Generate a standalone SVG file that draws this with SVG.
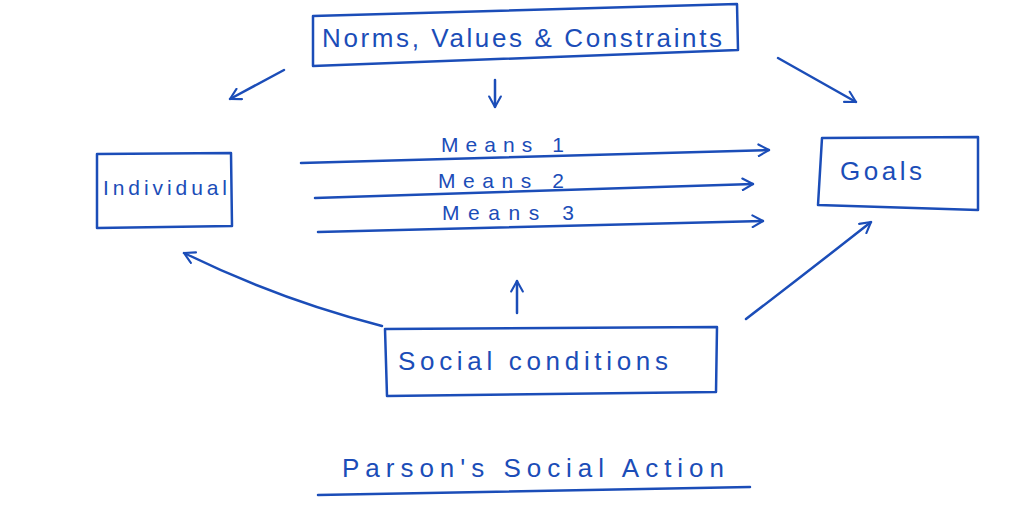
<svg xmlns="http://www.w3.org/2000/svg" width="1026" height="506" viewBox="0 0 1026 506">
<style>
.ink{fill:none;stroke:#1b4db8;stroke-width:2.5;stroke-linecap:round;stroke-linejoin:round}
.t{fill:#1b4db8;font-family:"Liberation Sans",Arial,sans-serif;font-size:26px}
.s{font-size:21px}
</style>
<defs>
<marker id="ah" viewBox="0 0 12 12" refX="10" refY="6" markerWidth="14" markerHeight="14" markerUnits="userSpaceOnUse" orient="auto">
<path d="M1,1 L10,6 L1,11" fill="none" stroke="#1b4db8" stroke-width="1.8" stroke-linecap="round" stroke-linejoin="round"/>
</marker>
</defs>
<rect width="1026" height="506" fill="#ffffff"/>
<g id="norms">
<path class="ink" d="M313,16 L737,4 L738,50 L313,66 Z"/>
<text class="t" x="322" y="47" textLength="400" lengthAdjust="spacing">Norms, Values &amp; Constraints</text>
</g>
<g id="individual">
<path class="ink" d="M97,154 L231,153 L232,226 L97,228 Z"/>
<text class="t s" x="103" y="195" textLength="124" lengthAdjust="spacing">Individual</text>
</g>
<g id="goals">
<path class="ink" d="M822,138 L978,137 L978,210 L818,205 Z"/>
<text class="t" x="840" y="180" textLength="82" lengthAdjust="spacing">Goals</text>
</g>
<g id="social">
<path class="ink" d="M385,329 L717,327 L716,392 L387,396 Z"/>
<text class="t" x="398" y="370" textLength="270" lengthAdjust="spacing">Social conditions</text>
</g>
<g id="title">
<text class="t" x="342" y="477" textLength="382" lengthAdjust="spacing">Parson's Social Action</text>
<path class="ink" d="M318,495 L750,487"/>
</g>
<g id="connectors">
<path class="ink" marker-end="url(#ah)" d="M495,80 L495,107"/>
<path class="ink" marker-end="url(#ah)" d="M284,70 L230,99"/>
<path class="ink" marker-end="url(#ah)" d="M778,58 L856,102"/>
<path class="ink" marker-end="url(#ah)" d="M301,163 L769,150"/>
<path class="ink" marker-end="url(#ah)" d="M315,198 L753,184"/>
<path class="ink" marker-end="url(#ah)" d="M318,232 L763,221"/>
<path class="ink" marker-end="url(#ah)" d="M517,313 L517,281"/>
<path class="ink" marker-end="url(#ah)" d="M382,326 Q280,300 184,253"/>
<path class="ink" marker-end="url(#ah)" d="M746,319 Q810,270 871,222"/>
<text class="t s" x="441" y="152" textLength="123" lengthAdjust="spacing">Means 1</text>
<text class="t s" x="438" y="188" textLength="126" lengthAdjust="spacing">Means 2</text>
<text class="t s" x="442" y="220" textLength="132" lengthAdjust="spacing">Means   3</text>
</g>
</svg>
